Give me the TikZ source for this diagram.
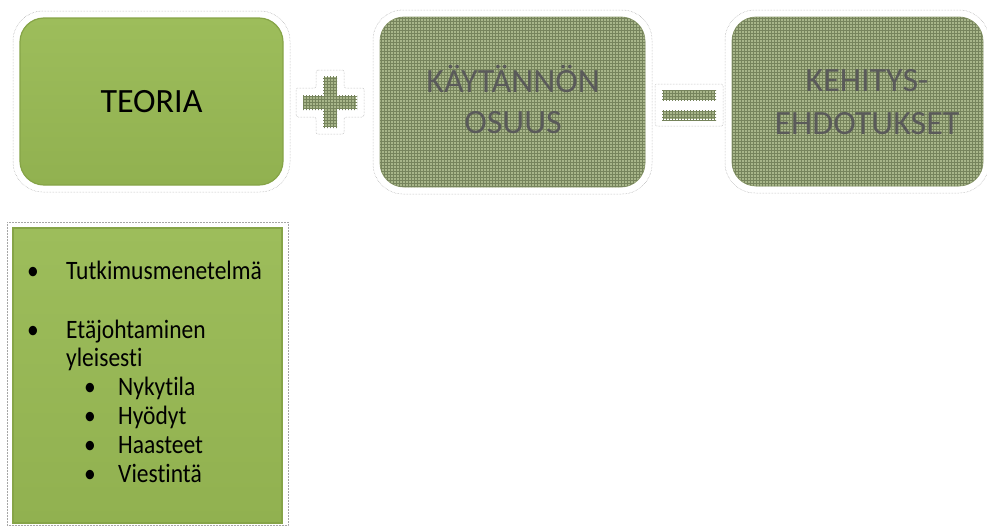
\documentclass[tikz,border=0pt]{standalone}
\usepackage{graphicx}
\usepackage{fontspec}
\setmainfont{Carlito}[Ligatures=NoCommon]
\usetikzlibrary{patterns}

\definecolor{leafgreen}{HTML}{9DBD5B}
\definecolor{leafshade}{HTML}{91B150}
\definecolor{leafdark}{HTML}{86A447}
\definecolor{dimbase}{HTML}{A8B68A}
\definecolor{dimgrid}{HTML}{76845C}
\definecolor{dimedge}{HTML}{8E9C6E}
\definecolor{dimtext}{HTML}{5A5A5A}

\newcommand{\tallword}[1]{\scalebox{1}[1.13]{#1}}

\tikzset{
  halo/.style={draw=black!35, line width=0.5pt, densely dotted},
  activebox/.style={draw=leafdark, line width=1.2pt, top color=leafgreen,
    bottom color=leafshade, inner sep=0pt},
  dimfill/.style={fill=dimbase, postaction={pattern=grid, pattern color=dimgrid}},
  dimbox/.style={dimfill, draw=dimedge, line width=0.8pt, inner sep=0pt},
  bigtext/.style={font=\fontsize{34}{41}\selectfont, inner sep=0pt},
  dimlabel/.style={bigtext, text=dimtext, anchor=base},
  listtext/.style={font=\fontsize{23.5}{28}\selectfont, anchor=base west, inner sep=0pt},
  listdot/.style={font=\fontsize{23.5}{28}\selectfont, anchor=base, inner sep=0pt},
}

\begin{document}
\begin{tikzpicture}[x=1pt,y=-1pt]
  \useasboundingbox (0,0) rectangle (987,525);

  % faint halos round the three top boxes and the list panel
  \draw[halo, rounded corners=30pt] (13,11) rectangle (290,192);
  \draw[halo, rounded corners=30pt] (373,10) rectangle (652,194);
  \draw[halo, rounded corners=30pt] (725,10) rectangle (989,193);
  \draw[halo] (7,222) rectangle (288,525);

  % top row
  \node[activebox, bigtext, rounded corners=24pt, minimum width=263pt,
        minimum height=167pt] (teoria) at (151.5,101.5) {TEORIA};
  \node[dimbox, rounded corners=24pt, minimum width=265pt,
        minimum height=170pt] (kaytanto) at (512.5,102) {};
  \node[dimbox, rounded corners=24pt, minimum width=251pt,
        minimum height=169pt] (kehitys) at (857.5,101.5) {};

  \node[dimlabel] (kaytanto1) at (513,92) {KÄYTÄNNÖN};
  \node[dimlabel] (kaytanto2) at (513,133) {OSUUS};
  \node[dimlabel] (kehitys1) at (867,91) {KEHITYS-};
  \node[dimlabel] (kehitys2) at (867,134) {EHDOTUKSET};

  % plus sign
  \draw[halo, rounded corners=2pt]
    (316,70) -- (344,70) -- (344,88) -- (364,88) -- (364,117) -- (344,117)
    -- (344,134) -- (316,134) -- (316,117) -- (296,117) -- (296,88) -- (316,88) -- cycle;
  \draw[dimfill, draw=white, line width=2.5pt]
    (323,76) -- (337,76) -- (337,95) -- (357,95) -- (357,110) -- (337,110)
    -- (337,128) -- (323,128) -- (323,110) -- (303,110) -- (303,95) -- (323,95) -- cycle;

  % equals sign
  \draw[halo, rounded corners=2pt] (655,84) rectangle (723,126);
  \draw[dimfill, draw=white, line width=2.5pt] (662,90) rectangle (716,100);
  \draw[dimfill, draw=white, line width=2.5pt] (662,110) rectangle (716,120);

  % list panel
  \node[activebox, minimum width=269pt, minimum height=295pt] (teorialist)
    at (147.5,375.5) {};

  \node[listdot] (d1) at (33,279) {\tallword{\textbullet}};
  \node[listtext] (l1) at (66,279) {\tallword{Tutkimusmenetelmä}};
  \node[listdot] (d2) at (33,338) {\tallword{\textbullet}};
  \node[listtext] (l2) at (66,338) {\tallword{Etäjohtaminen}};
  \node[listtext] (l3) at (66,366) {\tallword{yleisesti}};
  \node[listdot] (d4) at (90,395) {\tallword{\textbullet}};
  \node[listtext] (l4) at (118,395) {\tallword{Nykytila}};
  \node[listdot] (d5) at (90,424) {\tallword{\textbullet}};
  \node[listtext] (l5) at (118,424) {\tallword{Hyödyt}};
  \node[listdot] (d6) at (90,453) {\tallword{\textbullet}};
  \node[listtext] (l6) at (118,453) {\tallword{Haasteet}};
  \node[listdot] (d7) at (90,482) {\tallword{\textbullet}};
  \node[listtext] (l7) at (118,482) {\tallword{Viestintä}};
\end{tikzpicture}
\end{document}
